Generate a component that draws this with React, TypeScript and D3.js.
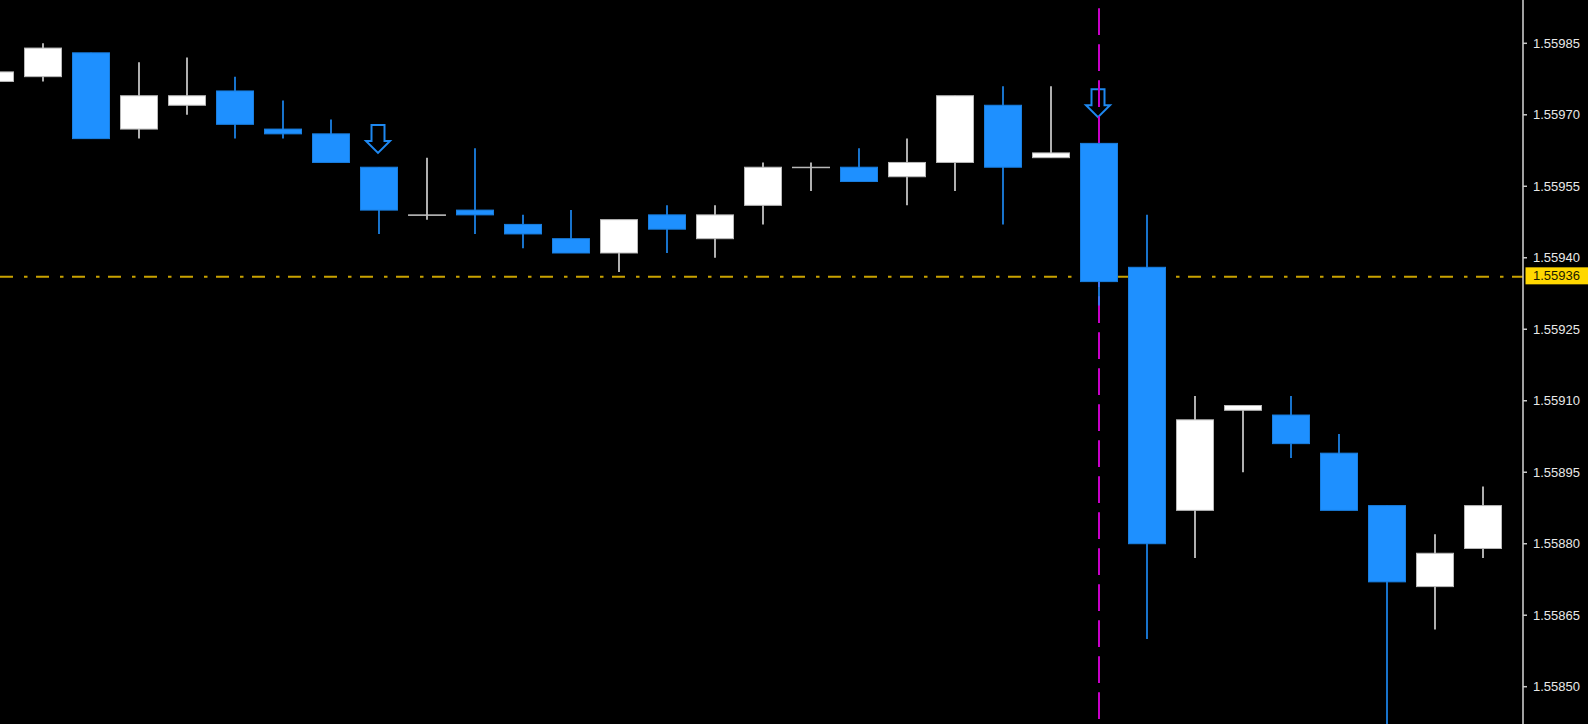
import React from "react";
import * as d3 from "d3";

// candle prices, oldest first
const opens = [
  1.55977, 1.55978, 1.55983, 1.55967, 1.55972, 1.55975, 1.55967, 1.55966,
  1.55959, 1.55949, 1.5595, 1.55947, 1.55944, 1.55941, 1.55949, 1.55944,
  1.55951, 1.55959, 1.55959, 1.55957, 1.5596, 1.55972, 1.55961, 1.55964,
  1.55938, 1.55887, 1.55908, 1.55907, 1.55899, 1.55888, 1.55871, 1.55879,
];
const highs = [
  1.5598, 1.55985, 1.55983, 1.55981, 1.55982, 1.55978, 1.55973, 1.55969,
  1.55959, 1.55961, 1.55963, 1.55949, 1.5595, 1.55948, 1.55951, 1.55951,
  1.5596, 1.5596, 1.55963, 1.55965, 1.55974, 1.55976, 1.55976, 1.55964,
  1.55949, 1.55911, 1.55909, 1.55911, 1.55903, 1.55888, 1.55882, 1.55892,
];
const lows = [
  1.55976, 1.55977, 1.55965, 1.55965, 1.5597, 1.55965, 1.55965, 1.5596,
  1.55945, 1.55948, 1.55945, 1.55942, 1.55941, 1.55937, 1.55941, 1.5594,
  1.55947, 1.55954, 1.55956, 1.55951, 1.55954, 1.55947, 1.55961, 1.5593,
  1.5586, 1.55877, 1.55895, 1.55898, 1.55887, 1.55838, 1.55862, 1.55877,
];
const closes = [
  1.55979, 1.55984, 1.55965, 1.55974, 1.55974, 1.55968, 1.55966, 1.5596,
  1.5595, 1.55949, 1.55949, 1.55945, 1.55941, 1.55948, 1.55946, 1.55949,
  1.55959, 1.55959, 1.55956, 1.5596, 1.55974, 1.55959, 1.55962, 1.55935,
  1.5588, 1.55906, 1.55909, 1.55901, 1.55887, 1.55872, 1.55878, 1.55888,
];

// sell arrows: candle index and the price at the arrow tip
const arrowIdx = [8, 23];
const arrowPrices = [1.55962, 1.559695];

const priceTicks = [
  1.55985, 1.5597, 1.55955, 1.5594, 1.55925, 1.5591, 1.55895, 1.5588,
  1.55865, 1.5585,
];
const bidPrice = 1.55936;
const vlineIdx = 23;

const W = 1588;
const H = 724;
const axisX = 1523;

const BULL = "#ffffff";
const BULL_EDGE = "#b8b8b8";
const BULL_WICK = "#dcdcdc";
const BEAR = "#1e90ff";
const BEAR_EDGE = "#1a7fe0";

export default function App() {
  const idx = d3.range(opens.length);

  const x = d3
    .scaleBand<number>()
    .domain(idx)
    .range([-29, -29 + 48 * opens.length])
    .paddingInner(11 / 48)
    .paddingOuter(11 / 96);

  const y = d3.scaleLinear().domain([1.55985, 1.5585]).range([43.3, 686.7]);

  const cx = (i: number) => (x(i) as number) + x.bandwidth() / 2;
  const fmt = d3.format(".5f");

  return (
    <svg
      width={W}
      height={H}
      style={{ position: "absolute", left: 0, top: 0, display: "block", background: "#000" }}
    >
      <rect width={W} height={H} fill="#000" />

      {/* bid line */}
      <line
        x1={0}
        x2={axisX}
        y1={y(bidPrice)}
        y2={y(bidPrice)}
        stroke="#c9a200"
        strokeWidth={2}
        strokeDasharray="13 11 3.5 8.5"
      />

      {/* signal arrows */}
      {arrowIdx.map((ci, k) => {
        const tx = cx(ci) - 1;
        const ty = y(arrowPrices[k]);
        const pts = [
          [-12, -12],
          [-6.5, -12],
          [-6.5, -28],
          [6.5, -28],
          [6.5, -12],
          [12, -12],
          [0, 0],
        ]
          .map((p) => `${tx + p[0]},${ty + p[1]}`)
          .join(" ");
        return (
          <polygon key={k} points={pts} fill="none" stroke="#1e88f0" strokeWidth={2} />
        );
      })}

      {/* vertical event line */}
      <line
        x1={cx(vlineIdx)}
        x2={cx(vlineIdx)}
        y1={8.3}
        y2={H}
        stroke="#c800c8"
        strokeWidth={2}
        strokeDasharray="26.7 9.3"
      />

      {/* candles */}
      {idx.map((i) => {
        const o = opens[i];
        const c = closes[i];
        const bull = c >= o;
        const top = y(Math.max(o, c));
        const bot = y(Math.min(o, c));
        return (
          <g key={i}>
            <line
              x1={cx(i)}
              x2={cx(i)}
              y1={y(highs[i])}
              y2={y(lows[i])}
              stroke={bull ? BULL_WICK : BEAR}
              strokeWidth={1.6}
            />
            <rect
              x={x(i)}
              y={top}
              width={x.bandwidth()}
              height={Math.max(bot - top, 0.5)}
              fill={bull ? BULL : BEAR}
              stroke={bull ? BULL_EDGE : BEAR_EDGE}
              strokeWidth={1}
            />
          </g>
        );
      })}

      {/* price axis */}
      <line x1={axisX} x2={axisX} y1={0} y2={H} stroke="#c8c8c8" strokeWidth={1.6} />
      {priceTicks.map((t) => (
        <g key={t}>
          <line x1={axisX} x2={axisX + 4} y1={y(t)} y2={y(t)} stroke="#c8c8c8" strokeWidth={1.5} />
          <text
            x={1533}
            y={y(t) + 1}
            dominantBaseline="middle"
            fill="#e8e8e8"
            fontFamily="'Liberation Sans', Arial, sans-serif"
            fontSize={13}
          >
            {fmt(t)}
          </text>
        </g>
      ))}

      {/* bid label */}
      <rect x={axisX + 2.5} y={y(bidPrice) - 9.5} width={W - axisX - 2.5} height={17} fill="#ffd700" />
      <text
        x={1533}
        y={y(bidPrice) - 0.5}
        dominantBaseline="middle"
        fill="#1a1a00"
        fontFamily="'Liberation Sans', Arial, sans-serif"
        fontSize={13}
      >
        {fmt(bidPrice)}
      </text>
    </svg>
  );
}
